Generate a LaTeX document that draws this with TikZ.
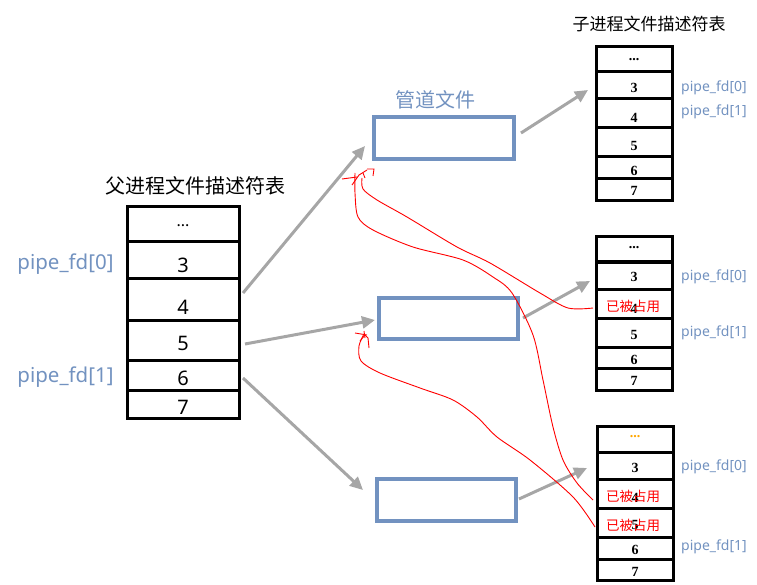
\documentclass[tikz,border=0pt]{standalone}
\usepackage{fontspec}
\setmainfont{Noto Sans}
\newfontfamily\cjk{Noto Sans CJK SC}
\newfontfamily\serifd{Liberation Serif}
\usetikzlibrary{arrows.meta}
\definecolor{steel}{RGB}{114,146,192}
\definecolor{arrgray}{RGB}{166,166,166}
\tikzset{
  pcell/.style={draw, line width=3pt, minimum width=112pt, inner sep=0pt, outer sep=0pt},
  ccell/.style={draw, line width=3pt, minimum width=76pt, inner sep=0pt, outer sep=0pt},
  pipebox/.style={draw=steel, line width=3.2pt, minimum width=139pt, minimum height=42pt, outer sep=0pt},
  garrow/.style={draw=arrgray, line width=3pt, -{Triangle[length=13pt,width=12pt]}},
  redline/.style={draw=red, line width=0.9pt},
  pnum/.style={inner sep=0pt, font=\fontsize{20}{24}\selectfont},
  cnum/.style={inner sep=0pt, font=\serifd\bfseries\fontsize{14}{16}\selectfont},
  plabel/.style={inner sep=0pt, text=steel, font=\fontsize{20.5}{24}\selectfont},
  clabel/.style={inner sep=0pt, anchor=west, text=steel, font=\fontsize{14}{16}\selectfont},
  occ/.style={inner sep=0pt, text=red, font=\cjk\fontsize{13.5}{16}\selectfont},
  title/.style={inner sep=0pt, font=\cjk\fontsize{#1}{#1}\selectfont}
}
\begin{document}
\begin{tikzpicture}[x=1pt,y=-1pt]
\useasboundingbox (0,0) rectangle (757,585);

% ---------- parent table ----------
\node[title=20] (ptitle) at (195,186) {父进程文件描述符表};
\node[pcell,minimum height=35pt] (pd) at (183,224.5) {};
\node[pcell,minimum height=36pt] (p3) at (183,260) {};
\node[pcell,minimum height=42pt] (p4) at (183,299) {};
\node[pcell,minimum height=40pt] (p5) at (183,340) {};
\node[pcell,minimum height=30pt] (p6) at (183,375) {};
\node[pcell,minimum height=28pt] (p7) at (183,404) {};
\node[pnum, font=\fontsize{16}{20}\selectfont] (tpd) at (183,226) {...};
\node[pnum] (tp3) at (183,265) {3};
\node[pnum] (tp4) at (183,307) {4};
\node[pnum] (tp5) at (183,343) {5};
\node[pnum] (tp6) at (183,378) {6};
\node[pnum] (tp7) at (183,407) {7};
\node[plabel] (pl0) at (65.5,264) {pipe\_fd[0]};
\node[plabel] (pl1) at (65.5,377) {pipe\_fd[1]};

% ---------- pipe files ----------
\node[inner sep=0pt, text=steel, font=\cjk\fontsize{20}{24}\selectfont] (ptl) at (435,100) {管道文件};
\node[pipebox, minimum width=140pt] (box1) at (444,138) {};
\node[pipebox, minimum height=41pt] (box2) at (448.5,318.5) {};
\node[pipebox] (box3) at (446.5,500) {};

% ---------- child table 1 ----------
\node[title=17] (ctitle) at (649,24) {子进程文件描述符表};
\node[ccell,minimum height=25pt] (c1d) at (634,59.5) {};
\node[ccell,minimum height=27pt] (c13) at (634,85.5) {};
\node[ccell,minimum height=29pt] (c14) at (634,113.5) {};
\node[ccell,minimum height=29pt] (c15) at (634,142.5) {};
\node[ccell,minimum height=22pt] (c16) at (634,168) {};
\node[ccell,minimum height=22pt] (c17) at (634,190) {};
\node[cnum] (t1d) at (634,60) {...};
\node[cnum] (t13) at (634,88) {3};
\node[cnum] (t14) at (634,118) {4};
\node[cnum] (t15) at (634,146) {5};
\node[cnum] (t16) at (634,171) {6};
\node[cnum] (t17) at (634,191) {7};
\node[clabel] (l10) at (681,88) {pipe\_fd[0]};
\node[clabel] (l11) at (681,112) {pipe\_fd[1]};

% ---------- child table 2 ----------
\node[ccell,minimum height=25pt] (c2d) at (634,249.5) {};
\node[ccell,minimum height=27pt] (c23) at (634,275.5) {};
\node[ccell,minimum height=29pt] (c24) at (634,303.5) {};
\node[ccell,minimum height=29pt] (c25) at (634,332.5) {};
\node[ccell,minimum height=21pt] (c26) at (634,357.5) {};
\node[ccell,minimum height=22pt] (c27) at (634,379) {};
\node[cnum] (t2d) at (634,248) {...};
\node[cnum] (t23) at (634,277) {3};
\node[cnum] (t24) at (634,309) {4};
\node[cnum] (t25) at (634,335) {5};
\node[cnum] (t26) at (634,360) {6};
\node[cnum] (t27) at (634,381) {7};
\node[occ] (o24) at (633,306) {已被占用};
\node[clabel] (l20) at (681,277) {pipe\_fd[0]};
\node[clabel] (l21) at (681,333) {pipe\_fd[1]};

% ---------- child table 3 ----------
\node[ccell,minimum height=26pt] (c3d) at (635,439) {};
\node[ccell,minimum height=27pt] (c33) at (635,465.5) {};
\node[ccell,minimum height=29pt] (c34) at (635,493.5) {};
\node[ccell,minimum height=29pt] (c35) at (635,522.5) {};
\node[ccell,minimum height=22pt] (c36) at (635,548) {};
\node[ccell,minimum height=21pt] (c37) at (635,569.5) {};
\node[cnum, text=orange!70!yellow] (t3d) at (635,437) {...};
\node[cnum] (t33) at (635,468) {3};
\node[cnum] (t34) at (635,498) {4};
\node[cnum] (t35) at (635,525) {5};
\node[cnum] (t36) at (635,550) {6};
\node[cnum] (t37) at (635,572) {7};
\node[occ] (o34) at (633,496) {已被占用};
\node[occ] (o35) at (633,525) {已被占用};
\node[clabel] (l30) at (681,467) {pipe\_fd[0]};
\node[clabel] (l31) at (681,547) {pipe\_fd[1]};

% ---------- gray arrows ----------
\draw[garrow] ([xshift=4pt,yshift=6pt]p4.east) -- ([xshift=-9pt,yshift=13pt]box1.south west);
\draw[garrow] ([xshift=6pt,yshift=-4pt]p5.east) -- ([xshift=-4pt,yshift=-1.5pt]box2.west);
\draw[garrow] ([xshift=4pt,yshift=-3pt]p6.east) -- ([xshift=-14pt,yshift=10pt]box3.west);
\draw[garrow] ([xshift=7pt,yshift=5pt]box1.east) -- ([xshift=-8pt,yshift=-4.5pt]c13.west);
\draw[garrow] ([xshift=5pt,yshift=0.5pt]box2.east) -- ([xshift=-6pt,yshift=-5.5pt]c23.west);
\draw[garrow] ([xshift=3pt,yshift=1pt]box3.east) -- ([xshift=-10pt,yshift=-2.5pt]c33.west);

% ---------- red hand-drawn marks ----------
\coordinate (ea) at (362,178);
\coordinate (eb) at (355,173);
\coordinate (ec) at (364,334);
\draw[redline] plot[smooth, tension=0.5] coordinates {([xshift=-3pt,yshift=-4.5pt]c24.west) (568,308) (540,293) (490,263) (457,247) (407,217) (377,200) (363,189) (ea)};
\draw[redline] plot[smooth, tension=0.5] coordinates {([xshift=-4pt,yshift=-6.5pt]c34.west) (577,483) (563,460) (553,427) (543,380) (533,335) (512,293) (493,277) (463,260) (413,247) (373,230) (358,217) (355,193) (eb)};
\draw[redline] plot[smooth, tension=0.5] coordinates {([xshift=-2pt,yshift=-4.5pt]c35.west) (573,497) (530,460) (497,437) (477,417) (453,400) (420,388) (380,373) (361,361) (359,346) (ec)};
% scribbled arrowheads
\draw[redline] (342,179) -- (357,177);
\draw[redline] (352,185) -- (359,175) -- (367,170);
\draw[redline] (367,169) -- (374,169) -- (373,176);
\draw[redline] (363,173) -- (365,178);
\draw[redline] (355,333) -- (367,335);
\draw[redline] (360,341) -- (365,335) -- (368,338) -- (369,348);
\draw[redline] (364,331) -- (365,338);
\end{tikzpicture}
\end{document}
